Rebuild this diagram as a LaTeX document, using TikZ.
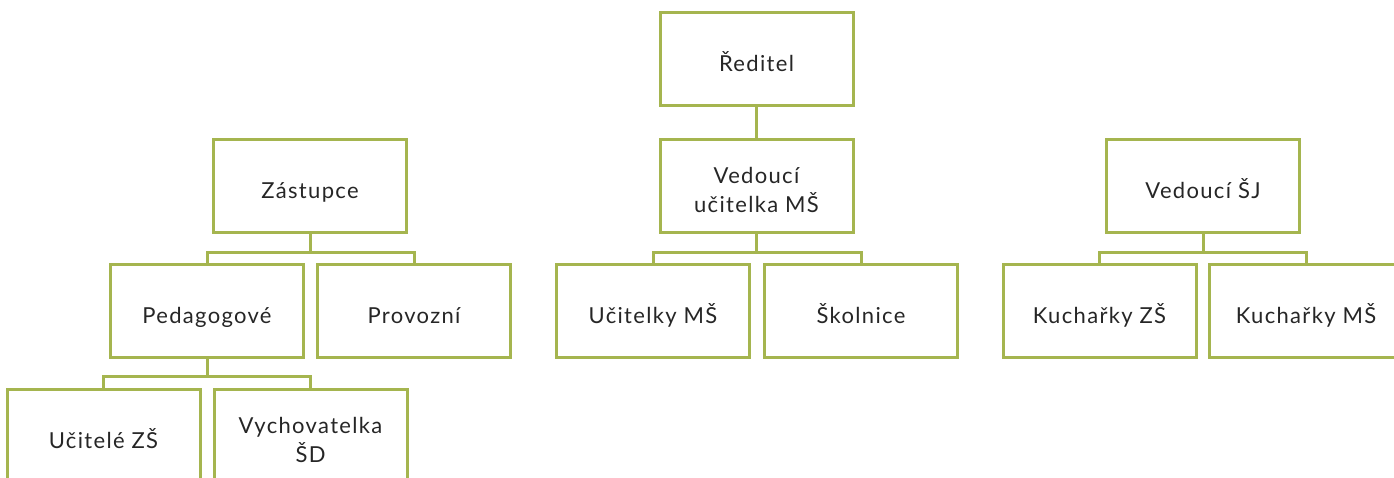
\documentclass[tikz,border=0pt]{standalone}
\usepackage{fontspec}
\setmainfont{Lato}[LetterSpace=6]
\definecolor{olivegr}{HTML}{A5B54F}
\definecolor{textgray}{HTML}{262626}
\tikzset{
  box/.style={draw=olivegr, line width=3pt, minimum width=193pt, minimum height=93pt,
    inner sep=0pt, align=center, text=textgray, font=\fontsize{22}{28.5}\selectfont},
  one/.style={text height=27pt, text depth=2pt},
  two/.style={text height=55pt, text depth=2pt},
  conn/.style={draw=olivegr, line width=3pt}
}
\begin{document}
\begin{tikzpicture}[x=1pt,y=-1pt]
\useasboundingbox (0,0) rectangle (1394,477);
\clip (0,0) rectangle (1394,477);
\node[box,one] (red)  at (756.5,58.5)  {Ředitel};
\node[box,two] (ved)  at (756.5,185.5) {Vedoucí\\učitelka MŠ};
\node[box,one] (zast) at (310,185.5)   {Zástupce};
\node[box,one] (sj)   at (1203,185.5)  {Vedoucí ŠJ};
\node[box,one] (ped)  at (207,310.5)   {Pedagogové};
\node[box,one] (prov) at (414,310.5)   {Provozní};
\node[box,one] (ucms) at (653,310.5)   {Učitelky MŠ};
\node[box,one] (skol) at (861,310.5)   {Školnice};
\node[box,one] (kzs)  at (1099.5,310.5) {Kuchařky ZŠ};
\node[box,one] (kms)  at (1306,310.5)  {Kuchařky MŠ};
\node[box,one] (uzs)  at (103.5,435.5) {Učitelé ZŠ};
\node[box,two] (vych) at (310.5,435.5) {Vychovatelka\\ŠD};
\coordinate (h1) at (0,252.5);
\coordinate (h2) at (0,376);
\draw[conn] (red.south) -- (ved.north);
\foreach \p/\c in {zast/ped, zast/prov, ved/ucms, ved/skol, sj/kzs, sj/kms}{
  \draw[conn] (\p.south) |- (\c.north |- h1) -- (\c.north);
}
\foreach \c in {uzs, vych}{
  \draw[conn] (ped.south) |- (\c.north |- h2) -- (\c.north);
}
\end{tikzpicture}
\end{document}
